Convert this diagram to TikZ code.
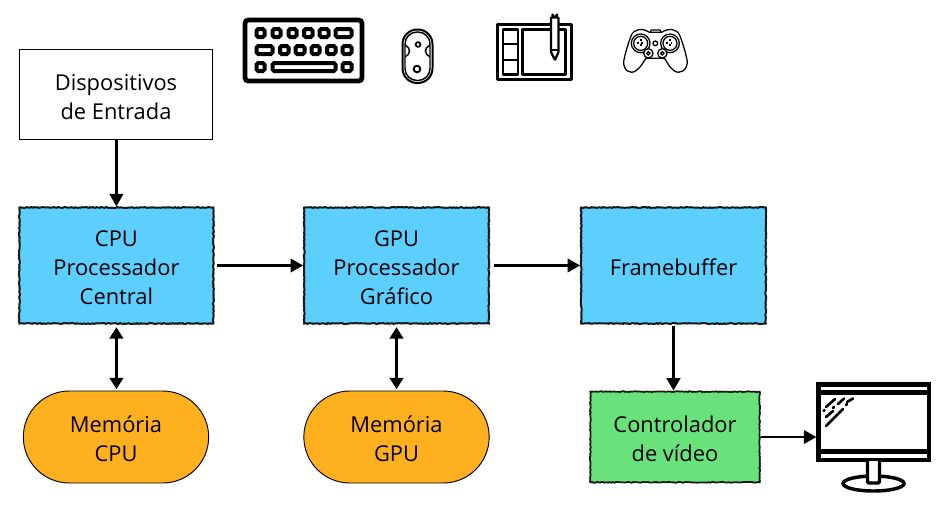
\documentclass[tikz,border=0pt]{standalone}
\usepackage{fontspec}
\setmainfont{Open Sans}
\usetikzlibrary{arrows.meta,decorations.pathmorphing,shapes.misc}
\definecolor{cblue}{HTML}{5CCFFF}
\definecolor{corange}{HTML}{FFB01F}
\definecolor{cgreen}{HTML}{69E27B}
\newcommand{\lowertext}[1]{\raisebox{-7.5pt}[0pt][0pt]{\begin{tabular}{@{}c@{}}#1\end{tabular}}}
\tikzset{
  base/.style={inner sep=0pt,font=\fontsize{16.4}{21.8}\selectfont,text=black},
  rough/.style={decorate,decoration={random steps,segment length=1.2pt,amplitude=0.35pt}},
  roughbox/.style={base,minimum height=87pt,draw=black!90,line width=1.5pt,
     preaction={fill=#1},rough},
  plainbox/.style={base,draw=black,line width=0.7pt,fill=white},
  pill/.style={base,rounded rectangle,draw=black,line width=0.7pt,fill=corange,minimum width=139pt,minimum height=69pt},
  conn/.style={line width=2.2pt,-{Triangle[length=9.5pt,width=10pt]}},
  conn2/.style={line width=2.2pt,{Triangle[length=8.5pt,width=10pt]}-{Triangle[length=8.5pt,width=10pt]}},
  icm/.style={line width=1.7pt,line join=round},
}
\renewcommand{\arraystretch}{1}
\setlength{\tabcolsep}{0pt}
\begin{document}
\begin{tikzpicture}[x=0.75pt,y=-0.75pt]
\useasboundingbox (0,0) rectangle (952,504);
% boxes
\node[plainbox,minimum width=145pt,minimum height=68pt] (input) at (116,94.5) {\lowertext{Dispositivos\\de Entrada}};
\node[roughbox=cblue,minimum width=145.5pt] (cpu) at (116.4,265.5) {\lowertext{CPU\\Processador\\Central}};
\node[roughbox=cblue,minimum width=138.5pt] (gpu) at (396.5,265.5) {\lowertext{GPU\\Processador\\Gráfico}};
\node[roughbox=cblue,minimum width=138.5pt] (fb) at (673.5,265.5) {\lowertext{Framebuffer}};
\node[pill] (memc) at (116,437) {\lowertext{Memória\\CPU}};
\node[pill] (memg) at (396.5,437) {\lowertext{Memória\\GPU}};
\node[base,draw=black!90,line width=1.3pt,rough,preaction={fill=cgreen},minimum width=127pt,minimum height=68pt] (ctrl) at (675,437) {\lowertext{Controlador\\de vídeo}};
\coordinate (mon) at (816.5,437);
% connectors
\draw[conn] (input.south -| cpu.north) -- (cpu.north);
\draw[conn,shorten <=2pt] (cpu.east) -- (gpu.west);
\draw[conn,shorten <=3pt] (gpu.east) -- (fb.west);
\draw[conn,shorten <=1pt] (fb.south) -- (ctrl.north -| fb.south);
\draw[conn2,shorten <=2pt,shorten >=1pt] (cpu.south) -- (memc.north -| cpu.south);
\draw[conn2,shorten <=2pt,shorten >=1pt] (gpu.south) -- (memg.north);
\draw[conn] (ctrl.east) -- (mon);
% keyboard
\draw[line width=3.6pt,rounded corners=2.5pt] (245,20) rectangle (362,81);
\foreach \a/\b/\y in {255/266/33,271/282/33,287/298/33,302.5/314/33,318/330/33,334/353/33,
  255/274/50,278.5/290/50,294/306/50,310/321/50,325.5/337/50,341/353/50,
  255/266/67,271/337/67,341/353/67}
  \draw[line width=3pt,rounded corners=1.2pt] (\a+1.5,\y-4) rectangle (\b-1.5,\y+4);
% mouse
\draw[line width=1.5pt,rounded corners=11pt] (402.5,29.5) rectangle (432.5,83);
\draw[line width=1.1pt,rounded corners=9pt] (405,32) rectangle (430,80.5);
\draw[line width=1.1pt] (405,45) .. controls (411,48) and (411,54) .. (405,57);
\draw[line width=1.1pt] (430,45) .. controls (424,48) and (424,54) .. (430,57);
\draw[line width=1.2pt] (418,44.5) circle (2.4);
\draw[line width=1.4pt] (417,69) circle (3.3);
% tablet
\draw[icm] (497.5,24.5) rectangle (571.5,79.5);
\draw[icm] (503,29.5) rectangle (518,74.5);
\draw[icm] (503,44) -- (518,44) (503,60) -- (518,60);
\draw[icm] (522.5,29.5) rectangle (565.5,74.5);
\draw[icm,fill=white,rounded corners=0.5pt] (551,17.5) -- (551,52) -- (555,60) -- (558.5,52) -- (558.5,17.5) -- cycle;
\draw[icm,fill=white] (552.5,17) -- (552.5,14.5) arc (180:0:2.2) -- (557,17);
\draw[line width=1pt] (551,50) -- (558.5,50);
% gamepad
\begin{scope}[shift={(480,0)},x=0.25pt,y=-0.25pt,line width=0.95pt]
\draw[fill=white] (508,97) -- (545,97) .. controls (565,84) and (590,84) .. (600,108)
  .. controls (608,130) and (618,160) .. (622,185)
  .. controls (622,210) and (600,225) .. (582,212)
  .. controls (565,200) and (562,185) .. (553,175)
  -- (498,175) .. controls (490,185) and (485,200) .. (468,212)
  .. controls (450,225) and (430,210) .. (431,185)
  .. controls (435,160) and (445,130) .. (453,108)
  .. controls (463,84) and (488,84) .. (508,97) -- cycle;
\draw (510,97) -- (514,90) -- (540,90) -- (544,97);
\draw[fill=white] (482,130) circle (28);
\draw[fill=white] (570,130) circle (28);
\draw (482,130) circle (21);
\draw (570,130) circle (21);
\draw[fill=white] (505,160) circle (14);
\draw[fill=white] (547,160) circle (14);
\draw (505,160) circle (5);
\draw (547,160) circle (5);
\draw (526,130) circle (7);
\draw[line width=1.4pt,dotted] (470,130) -- (494,130) (482,118) -- (482,142);
\draw[line width=1.4pt,dotted] (558,130) -- (582,130) (570,118) -- (570,142);
\end{scope}
% monitor
\draw[line width=3.2pt] (818.5,384.5) rectangle (929,460);
\draw[line width=3.2pt] (818.5,392.5) -- (929,392.5) (818.5,451.5) -- (929,451.5);
\draw[line width=2.6pt] (873.5,483.5) ellipse (30.5 and 7.5);
\draw[line width=2.6pt,fill=white,rounded corners=1pt] (867.5,461) -- (867.5,483) -- (879.5,483) -- (879.5,461);
\begin{scope}[line width=2pt,line cap=round]
\draw (826,407) -- (835,399);
\draw (823.5,411) -- (824.5,410);
\draw (838,404) -- (844,398.5);
\draw (833,408) -- (834,407);
\draw (847,402) -- (853,398.5);
\draw (846,405) -- (847,404);
\draw (826,417) -- (833,411);
\draw (826,426) -- (843,409);
\end{scope}
\end{tikzpicture}
\end{document}
